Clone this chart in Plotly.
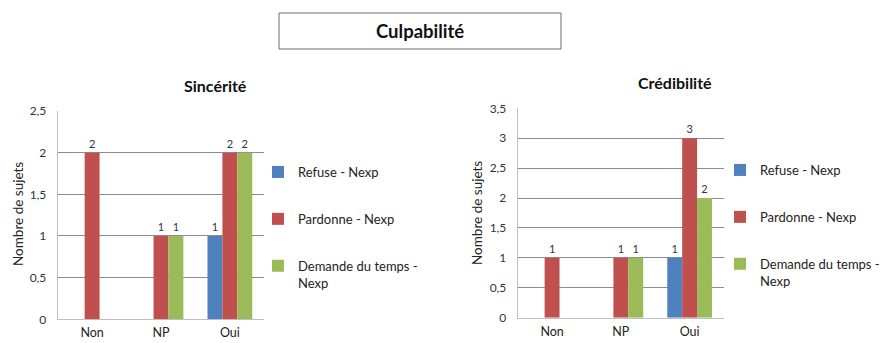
import plotly.graph_objects as go

# Categories and series
categories = ["Non", "NP", "Oui"]
series_names = ["Refuse - Nexp", "Pardonne - Nexp", "Demande du temps -<br>Nexp"]
series_colors = ["#4F81BD", "#C0504D", "#9BBB59"]

# Sincérité panel
sincerite_refuse = [0, 0, 1]
sincerite_pardonne = [2, 1, 2]
sincerite_demande = [0, 1, 2]

# Crédibilité panel
credibilite_refuse = [0, 0, 1]
credibilite_pardonne = [1, 1, 3]
credibilite_demande = [0, 1, 2]

W, H = 887, 343
FONT = "Lato, 'Open Sans', sans-serif"


def px_x(v):
    return v / W


def px_y(v):
    return 1 - v / H


fig = go.Figure()

panels = [
    ([sincerite_refuse, sincerite_pardonne, sincerite_demande], "x", "y", "legend"),
    ([credibilite_refuse, credibilite_pardonne, credibilite_demande], "x2", "y2", "legend2"),
]

for values, xa, ya, lg in panels:
    for name, color, vals in zip(series_names, series_colors, values):
        fig.add_trace(go.Bar(
            x=categories,
            y=vals,
            name=name,
            marker=dict(color=color, line=dict(width=0)),
            text=[str(v) if v else "" for v in vals],
            textposition="outside",
            textfont=dict(size=11, color="#333333", family=FONT),
            cliponaxis=False,
            xaxis=xa,
            yaxis=ya,
            legend=lg,
            legendgroup=lg + name,
            hoverinfo="x+y+name",
        ))

axis_common_x = dict(
    showgrid=False,
    showline=True,
    linecolor="#BFBFBF",
    linewidth=1,
    ticks="",
    tickfont=dict(size=12.5, color="#222222", family=FONT),
    ticklabelstandoff=2,
    automargin=False,
    fixedrange=True,
)
axis_common_y = dict(
    showgrid=True,
    gridcolor="#8C8C8C",
    gridwidth=1,
    showline=True,
    linecolor="#BFBFBF",
    linewidth=1,
    ticks="",
    dtick=0.5,
    zeroline=False,
    tickfont=dict(size=12, color="#333333", family=FONT),
    ticklabelstandoff=8,
    automargin=False,
    fixedrange=True,
)

legend_common = dict(
    font=dict(size=13, color="#222222", family=FONT),
    bgcolor="rgba(0,0,0,0)",
    tracegroupgap=27,
    valign="top",
    yanchor="top",
    xanchor="left",
    traceorder="grouped",
)

fig.update_layout(
    width=W,
    height=H,
    margin=dict(l=0, r=0, t=0, b=0, autoexpand=False),
    paper_bgcolor="white",
    plot_bgcolor="white",
    separators=", ",
    barmode="group",
    bargap=0.35,
    bargroupgap=0,
    font=dict(family=FONT, color="#222222"),
    xaxis=dict(domain=[px_x(57.7), px_x(264.3)], anchor="y", **axis_common_x),
    yaxis=dict(domain=[px_y(319.3), px_y(111)], anchor="x", range=[0, 2.5], **axis_common_y),
    xaxis2=dict(domain=[px_x(517.7), px_x(724)], anchor="y2", **axis_common_x),
    yaxis2=dict(domain=[px_y(317.7), px_y(108.3)], anchor="x2", range=[0, 3.5], **axis_common_y),
    legend=dict(x=px_x(258), y=px_y(157), **legend_common),
    legend2=dict(x=px_x(720), y=px_y(155), **legend_common),
    shapes=[
        dict(type="rect", xref="paper", yref="paper",
             x0=px_x(279), x1=px_x(561), y0=px_y(49), y1=px_y(13),
             line=dict(color="#6E6E6E", width=1), fillcolor="white", layer="below"),
    ],
    annotations=[
        dict(text="<b>Culpabilité</b>", xref="paper", yref="paper",
             x=px_x(420), y=px_y(31.5), xanchor="center", yanchor="middle",
             showarrow=False, font=dict(size=18.5, color="#111111", family=FONT)),
        dict(text="<b>Sincérité</b>", xref="paper", yref="paper",
             x=px_x(215), y=px_y(85), xanchor="center", yanchor="middle",
             showarrow=False, font=dict(size=16, color="#111111", family=FONT)),
        dict(text="<b>Crédibilité</b>", xref="paper", yref="paper",
             x=px_x(675), y=px_y(83), xanchor="center", yanchor="middle",
             showarrow=False, font=dict(size=16, color="#111111", family=FONT)),
        dict(text="Nombre de sujets", xref="paper", yref="paper",
             x=px_x(18), y=px_y(214), xanchor="center", yanchor="middle",
             showarrow=False, textangle=-90,
             font=dict(size=13.5, color="#222222", family=FONT)),
        dict(text="Nombre de sujets", xref="paper", yref="paper",
             x=px_x(477), y=px_y(213), xanchor="center", yanchor="middle",
             showarrow=False, textangle=-90,
             font=dict(size=13.5, color="#222222", family=FONT)),
    ],
)

fig.write_html("out.html")
